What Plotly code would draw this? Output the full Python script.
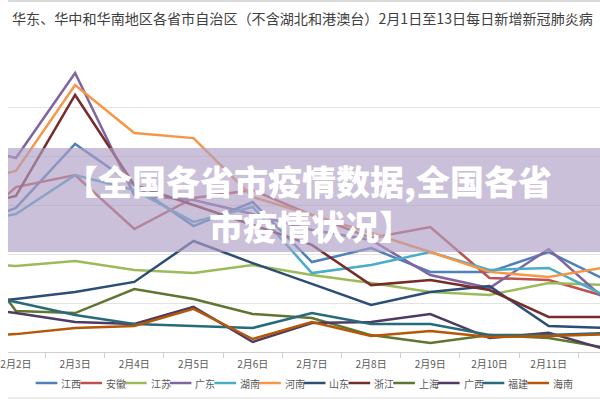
import plotly.graph_objects as go

dates = ["2月1日", "2月2日", "2月3日", "2月4日", "2月5日", "2月6日",
         "2月7日", "2月8日", "2月9日", "2月10日", "2月11日", "2月12日"]

jiangxi  = [49.8, 58.8, 84.9, 68.2, 51.4, 61.2, 36.7, 42.4, 32.7, 32.7, 40.8, 29.0]
anhui    = [45.7, 67.3, 72.2, 50.2, 62.9, 66.1, 55.9, 46.5, 51.0, 30.2, 29.4, 22.4]
jiangsu  = [36.7, 35.1, 37.1, 33.5, 32.2, 35.5, 31.4, 28.2, 24.5, 23.3, 28.2, 27.3]
guangdong= [85.3, 79.2, 113.9, 64.1, 62.0, 56.3, 49.8, 45.7, 31.4, 26.1, 42.0, 20.4]
hunan    = [51.8, 56.3, 72.2, 66.1, 53.1, 59.2, 32.2, 35.5, 40.8, 33.5, 34.3, 22.4]
henan    = [68.2, 73.9, 109.0, 89.4, 87.3, 63.3, 55.9, 48.6, 40.8, 32.7, 30.6, 34.7]
shandong = [19.2, 21.6, 24.5, 28.6, 45.3, 36.3, 27.8, 19.2, 24.5, 26.9, 10.6, 9.8]
zhejiang = [58.0, 63.7, 104.9, 68.2, 60.0, 51.8, 43.7, 27.3, 29.4, 25.3, 14.3, 14.3]
shanghai = [49.8, 16.7, 15.9, 25.7, 21.6, 15.5, 13.9, 6.9, 3.7, 6.9, 5.7, 1.6]
guangxi  = [19.2, 15.9, 12.2, 11.4, 18.4, 4.1, 11.8, 12.2, 15.5, 5.7, 7.8, 0.8]
fujian   = [25.3, 20.4, 15.1, 11.4, 10.6, 9.8, 15.9, 11.4, 11.4, 6.9, 6.9, 7.8]
hainan   = [6.5, 7.3, 9.8, 10.6, 17.6, 5.3, 12.2, 6.5, 8.6, 6.1, 6.5, 7.3]

names = ["江西", "安徽", "江苏", "广东", "湖南", "河南",
         "山东", "浙江", "上海", "广西", "福建", "海南"]
series = [jiangxi, anhui, jiangsu, guangdong, hunan, henan,
          shandong, zhejiang, shanghai, guangxi, fujian, hainan]
colors = ["#4F81BD", "#C0504D", "#9BBB59", "#8064A2", "#4BACC6", "#F79646",
          "#2C4D75", "#772C2A", "#5F7530", "#4D3B62", "#276A7C", "#B65708"]

title = "华东、华中和华南地区各省市自治区（不含湖北和港澳台）2月1日至13日每日新增新冠肺炎病"
banner_lines = ["【全国各省市疫情数据,全国各省", "市疫情状况】"]

FONT = "Noto Sans CJK SC"
W, H = 600, 400
T, B = 58, 48
PH = H - T - B

def py(p):
    return (H - B - p) / PH

xs = list(range(1, len(dates) + 1))

fig = go.Figure()
for n, s, c in zip(names, series, colors):
    fig.add_trace(go.Scatter(x=xs, y=s, name=n, mode="lines",
                             line=dict(color=c, width=2.5), showlegend=False))

fig.update_layout(
    width=W, height=H,
    margin=dict(l=0, r=0, t=T, b=B),
    paper_bgcolor="white", plot_bgcolor="white",
    font=dict(family=FONT, color="#595959"),
    xaxis=dict(range=[1 + 52/60, 11 + 52/60], tickvals=xs, ticktext=dates,
               ticks="", showgrid=False, showline=True, linecolor="#d0d0d0",
               linewidth=1, zeroline=False, tickfont=dict(size=10, color="#595959"),
               ticklabeloverflow="allow", ticklabelstandoff=3,
               minor=dict(ticks="outside", tick0=0.5, dtick=1, ticklen=5,
                          tickcolor="#d0d0d0", showgrid=False)),
    yaxis=dict(range=[0, 120], dtick=20, showgrid=True, gridcolor="#e3e3e3",
               gridwidth=1, showticklabels=False, zeroline=False, ticks=""),
)

# top and bottom frame lines
fig.add_shape(type="line", xref="paper", yref="paper", x0=0, x1=1, y0=py(1), y1=py(1),
              line=dict(color="#d9d9d9", width=2))
fig.add_shape(type="line", xref="paper", yref="paper", x0=0, x1=1, y0=py(398), y1=py(398),
              line=dict(color="#d9d9d9", width=1))

# title
fig.add_annotation(text=title, xref="paper", yref="paper", x=0.003, y=py(18),
                   xanchor="left", yanchor="middle", showarrow=False,
                   font=dict(size=14.1, color="#404040", family=FONT))

# legend (manual)
for i, (n, c) in enumerate(zip(names, colors)):
    x0 = 28 + i * 45.3
    fig.add_shape(type="line", xref="paper", yref="paper",
                  x0=x0 / W, x1=(x0 + 22) / W, y0=py(383), y1=py(383),
                  line=dict(color=c, width=2.5))
    fig.add_annotation(text=n, xref="paper", yref="paper", x=(x0 + 24) / W, y=py(383),
                       xanchor="left", yanchor="middle", showarrow=False,
                       font=dict(size=10, color="#595959", family=FONT))

# translucent banner overlay
fig.add_shape(type="rect", xref="paper", yref="paper", x0=0, x1=1,
              y0=py(252), y1=py(148), layer="above", line=dict(width=0),
              fillcolor="rgba(175,158,197,0.65)")
for txt, yy, xx in zip(banner_lines, [180, 225], [304, 307]):
    fig.add_annotation(text=txt, xref="paper", yref="paper", x=xx / W, y=py(yy),
                       xanchor="center", yanchor="middle", align="center", showarrow=False,
                       font=dict(size=34, color="white", family=FONT, weight=900))

fig.write_html("out.html")
